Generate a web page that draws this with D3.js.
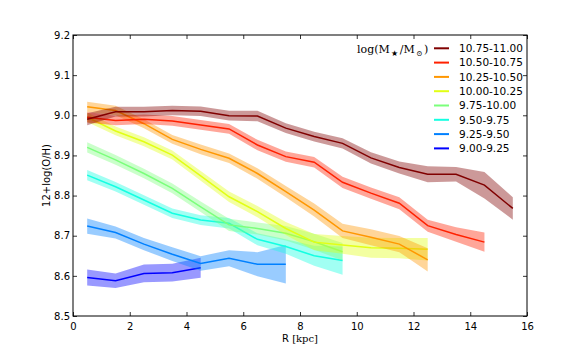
<!DOCTYPE html>
<html>
<head>
<meta charset="utf-8">
<script src="https://cdn.jsdelivr.net/npm/d3@7"></script>
<style>
  body { margin: 0; background: #fff; }
  svg text { font-family: "DejaVu Sans", sans-serif; }
</style>
</head>
<body>
<script>
// mass bins, lowest first (legend shows them reversed)
const massBins = ["9.00-9.25", "9.25-9.50", "9.50-9.75", "9.75-10.00",
                  "10.00-10.25", "10.25-10.50", "10.50-10.75", "10.75-11.00"];
const binColors = ["#0000ff", "#0080ff", "#14ffe2", "#7bff7b",
                   "#e2ff14", "#ff9700", "#ff2100", "#800000"];

const radii = [0.5, 1.5, 2.5, 3.5, 4.5, 5.5, 6.5, 7.5, 8.5, 9.5, 10.5, 11.5, 12.5, 13.5, 14.5, 15.5];

// median 12+log(O/H) per radial bin
const oh = [
  [8.596, 8.588, 8.606, 8.608, 8.620],
  [8.724, 8.708, 8.679, 8.654, 8.631, 8.644, 8.629, 8.629],
  [8.851, 8.822, 8.789, 8.756, 8.739, 8.731, 8.691, 8.673, 8.650, 8.638],
  [8.920, 8.889, 8.855, 8.818, 8.772, 8.727, 8.718, 8.706, 8.685, 8.660],
  [8.995, 8.961, 8.934, 8.901, 8.849, 8.797, 8.760, 8.718, 8.684, 8.677, 8.670, 8.669, 8.666],
  [9.021, 9.012, 8.979, 8.940, 8.915, 8.893, 8.855, 8.810, 8.764, 8.712, 8.696, 8.679, 8.640],
  [8.995, 8.987, 8.990, 8.986, 8.976, 8.966, 8.926, 8.897, 8.883, 8.833, 8.806, 8.781, 8.725, 8.703, 8.684],
  [8.990, 9.009, 9.009, 9.012, 9.010, 8.999, 8.998, 8.968, 8.947, 8.930, 8.894, 8.870, 8.853, 8.853, 8.826, 8.768]
];

// half width of the shaded band
const ohErr = [
  [0.020, 0.018, 0.022, 0.022, 0.025],
  [0.019, 0.015, 0.015, 0.017, 0.018, 0.020, 0.030, 0.048],
  [0.013, 0.012, 0.012, 0.012, 0.012, 0.013, 0.015, 0.018, 0.025, 0.035],
  [0.013, 0.012, 0.012, 0.012, 0.013, 0.015, 0.015, 0.018, 0.020, 0.022],
  [0.012, 0.011, 0.011, 0.011, 0.012, 0.013, 0.014, 0.016, 0.020, 0.022, 0.025, 0.025, 0.028],
  [0.013, 0.012, 0.011, 0.011, 0.012, 0.012, 0.013, 0.014, 0.016, 0.018, 0.020, 0.020, 0.029],
  [0.013, 0.012, 0.012, 0.012, 0.012, 0.012, 0.013, 0.013, 0.013, 0.014, 0.014, 0.015, 0.015, 0.018, 0.024],
  [0.015, 0.012, 0.012, 0.012, 0.012, 0.012, 0.013, 0.012, 0.012, 0.013, 0.014, 0.015, 0.020, 0.018, 0.033, 0.028]
];

const xTicks = [0, 2, 4, 6, 8, 10, 12, 14, 16];
const yTicks = [8.5, 8.6, 8.7, 8.8, 8.9, 9.0, 9.1, 9.2];

const width = 586, height = 352;
const margin = { top: 35, right: 59, bottom: 36, left: 73 };

const x = d3.scaleLinear().domain([0, 16]).range([margin.left, width - margin.right]);
const y = d3.scaleLinear().domain([8.5, 9.2]).range([height - margin.bottom, margin.top]);

const svg = d3.select("body").append("svg")
    .attr("width", width)
    .attr("height", height);

svg.append("clipPath").attr("id", "plotclip")
  .append("rect")
    .attr("x", margin.left).attr("y", margin.top)
    .attr("width", x(16) - x(0)).attr("height", y(8.5) - y(9.2));

const plot = svg.append("g").attr("clip-path", "url(#plotclip)");

massBins.forEach((bin, i) => {
    const pts = oh[i].map((v, j) => ({ r: radii[j], v: v, e: ohErr[i][j] }));
    const area = d3.area()
        .x(d => x(d.r))
        .y0(d => y(d.v - d.e))
        .y1(d => y(d.v + d.e));
    const line = d3.line()
        .x(d => x(d.r))
        .y(d => y(d.v));
    plot.append("path")
        .attr("d", area(pts))
        .attr("fill", binColors[i])
        .attr("fill-opacity", 0.4)
        .attr("stroke", "none");
    plot.append("path")
        .attr("d", line(pts))
        .attr("fill", "none")
        .attr("stroke", binColors[i])
        .attr("stroke-width", 1.5);
});

// axes, ticks inside on all four sides
const xAxisB = d3.axisBottom(x).tickValues(xTicks).tickSize(-4).tickPadding(7).tickFormat(d3.format("d"));
const xAxisT = d3.axisTop(x).tickValues(xTicks).tickSize(-4).tickFormat("");
const yAxisL = d3.axisLeft(y).tickValues(yTicks).tickSize(-4).tickPadding(3).tickFormat(d3.format(".1f"));
const yAxisR = d3.axisRight(y).tickValues(yTicks).tickSize(-4).tickFormat("");

function styleAxis(g) {
    g.select(".domain").remove();
    g.selectAll(".tick line").attr("stroke", "#000").attr("stroke-width", 0.8);
    g.selectAll(".tick text").attr("fill", "#000").style("font-size", "10px");
}

svg.append("g").attr("transform", `translate(0,${y(8.5)})`).call(xAxisB).call(styleAxis);
svg.append("g").attr("transform", `translate(0,${y(9.2)})`).call(xAxisT).call(styleAxis);
svg.append("g").attr("transform", `translate(${x(0)},0)`).call(yAxisL).call(styleAxis);
svg.append("g").attr("transform", `translate(${x(16)},0)`).call(yAxisR).call(styleAxis);

svg.append("rect")
    .attr("x", x(0)).attr("y", y(9.2))
    .attr("width", x(16) - x(0)).attr("height", y(8.5) - y(9.2))
    .attr("fill", "none")
    .attr("stroke", "#000")
    .attr("stroke-width", 1);

// axis labels
const xl = svg.append("text")
    .attr("x", (x(0) + x(16)) / 2)
    .attr("y", 342)
    .attr("text-anchor", "middle")
    .style("font-size", "10px");
xl.append("tspan").text("R ");
xl.append("tspan").style("font-family", "DejaVu Serif, serif").text("[kpc]");

svg.append("text")
    .attr("transform", `translate(50,${(y(8.5) + y(9.2)) / 2}) rotate(-90)`)
    .attr("text-anchor", "middle")
    .style("font-size", "10px")
    .text("12+log(O/H)");

// legend
const legend = svg.append("g");
const lt = legend.append("text")
    .attr("x", 357).attr("y", 53)
    .style("font-family", "DejaVu Serif, serif")
    .style("font-size", "11px");
lt.append("tspan").text("log(M");
lt.append("tspan").attr("dx", 1.5).attr("dy", 2.5).style("font-size", "7.5px").text("\u2605");
lt.append("tspan").attr("dx", 1.5).attr("dy", -2.5).text("/M");
lt.append("tspan").attr("dx", 1.5).attr("dy", 2.5).style("font-size", "7.5px").text("\u2299");
lt.append("tspan").attr("dx", 1.5).attr("dy", -2.5).text(")");

massBins.slice().reverse().forEach((bin, k) => {
    const i = massBins.length - 1 - k;
    const yy = 48.3 + k * 14.3;
    legend.append("line")
        .attr("x1", 434).attr("x2", 449)
        .attr("y1", yy).attr("y2", yy)
        .attr("stroke", binColors[i])
        .attr("stroke-width", 2);
    legend.append("text")
        .attr("x", 459).attr("y", yy + 3.8)
        .style("font-size", "10.5px")
        .text(bin);
});
</script>
</body>
</html>
